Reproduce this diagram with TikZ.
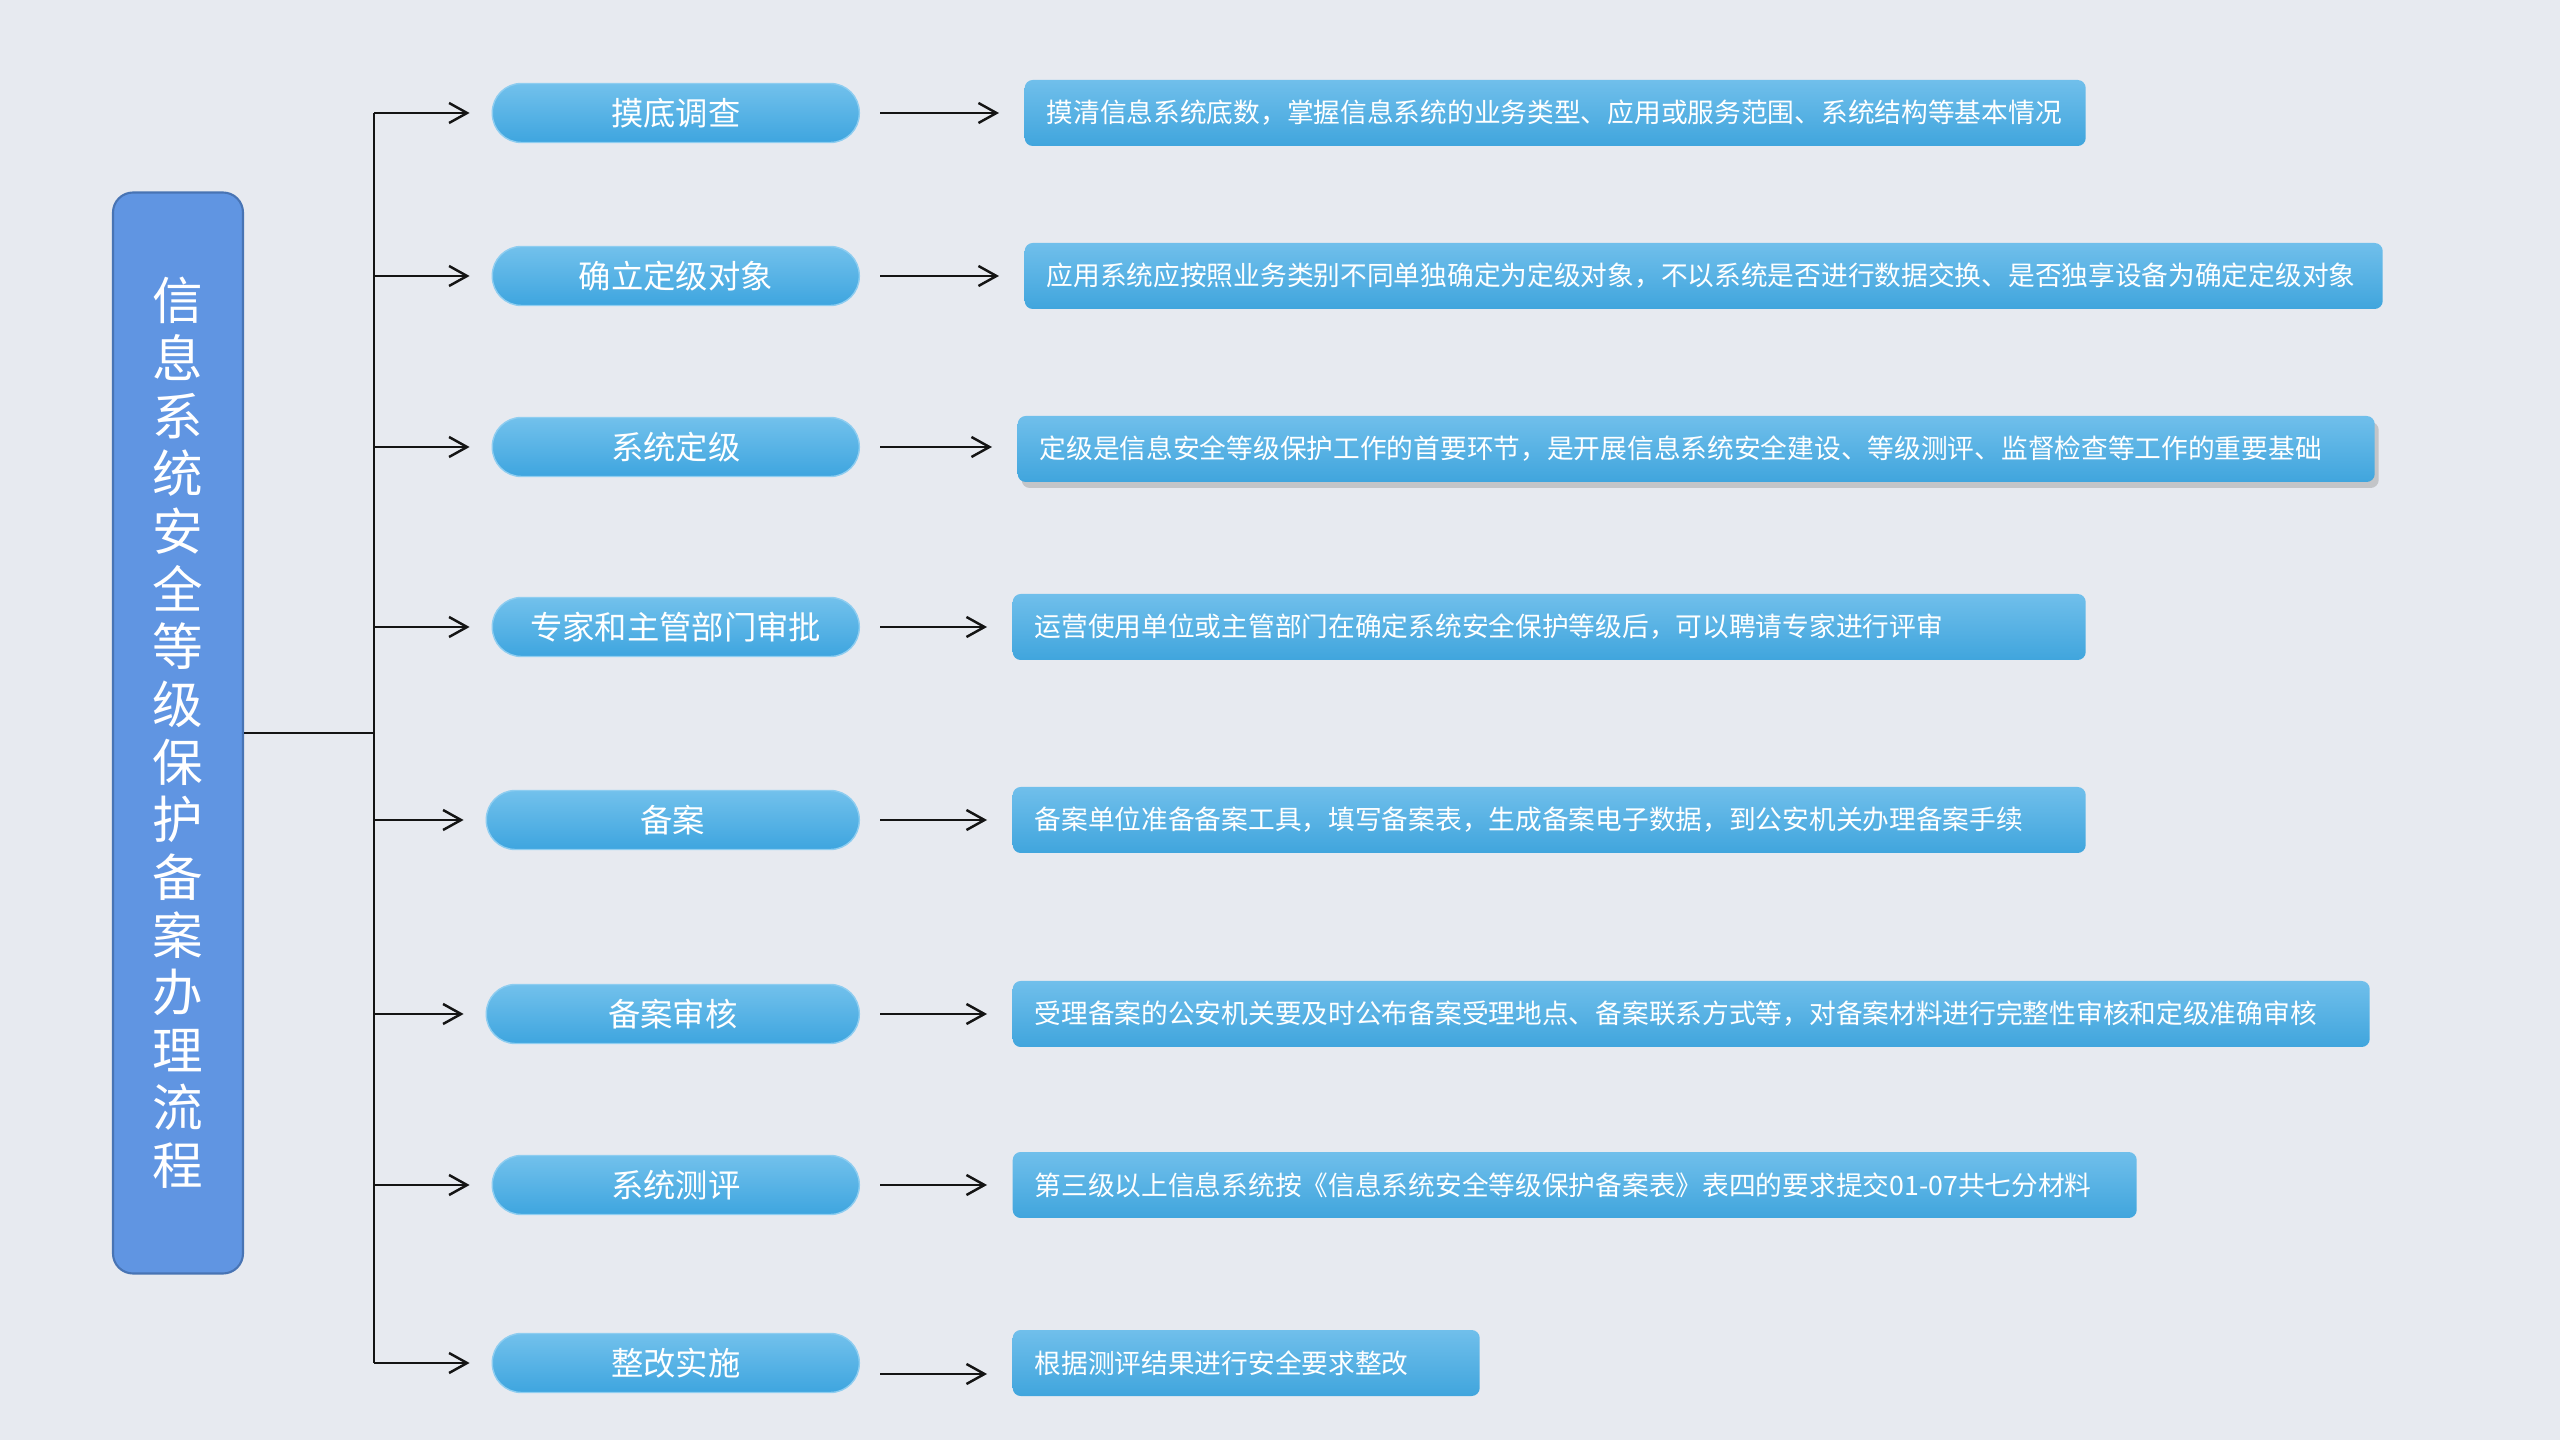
\documentclass[tikz,border=0pt]{standalone}
\usepackage{fontspec}
\setmainfont{Noto Sans CJK SC}
\usepackage{tikz}
\usetikzlibrary{arrows.meta,shadows}
\definecolor{ink}{RGB}{20,20,20}
\definecolor{paper}{RGB}{231,234,240}
\definecolor{titlefill}{RGB}{96,149,226}
\definecolor{titlestroke}{RGB}{72,116,180}
\definecolor{stagetop}{RGB}{114,193,236}
\definecolor{stagebot}{RGB}{62,165,223}
\definecolor{desctop}{RGB}{112,191,235}
\definecolor{descbot}{RGB}{64,165,221}
\def\PxT{374}
\def\PxS{860}
\tikzset{
  titlebox/.style={
    draw=titlestroke, fill=titlefill, line width=0.6pt, rounded corners=2mm,
    minimum width=13mm, minimum height=108.1mm, inner sep=0pt,
    align=center, text=white, font=\fontsize{14.4}{16.4}\selectfont,
  },
  stage/.style={
    draw=stagetop!80!white, top color=stagetop, bottom color=stagebot,
    rounded corners=2.9mm, minimum width=36.7mm, minimum height=5.9mm,
    inner sep=0pt, anchor=east, text=white, font=\fontsize{9.2}{11}\selectfont,
  },
  desc/.style={
    top color=desctop, bottom color=descbot, rounded corners=0.8mm,
    minimum height=6.6mm, inner xsep=2.2mm, inner ysep=0pt, anchor=west,
    text width=#1, align=left, text=white, font=\fontsize{7.6}{9}\selectfont,
  },
  trunk/.style={line width=0.7pt, draw=ink},
  arr/.style={-{Straight Barb[length=1.8mm,width=2mm]}, line width=0.7pt, draw=ink},
  stagearr/.style={arr, shorten <=2mm, shorten >=2.5mm},
}
\begin{document}
\begin{tikzpicture}[x=0.1mm,y=-0.1mm]
  \useasboundingbox (0,0) rectangle (2560,1440);
  \fill[paper] (0,0) rectangle (2560,1440);

  \node[titlebox] (title) at (178,733)
    {信\\息\\系\\统\\安\\全\\等\\级\\保\\护\\备\\案\\办\\理\\流\\程};

  % junctions on the trunk
  \coordinate (j1) at (\PxT,113);
  \coordinate (j2) at (\PxT,276);
  \coordinate (j3) at (\PxT,447);
  \coordinate (j4) at (\PxT,627);
  \coordinate (j5) at (\PxT,820);
  \coordinate (j6) at (\PxT,1014);
  \coordinate (j7) at (\PxT,1185);
  \coordinate (j8) at (\PxT,1363);
  \draw[trunk] (j1) -- (j8);
  \draw[trunk] (title.east) -- (title.east -| j1);

  % stages
  \node[stage] (p1) at (\PxS,113) {摸底调查};
  \node[stage] (p2) at (\PxS,276) {确立定级对象};
  \node[stage] (p3) at (\PxS,447) {系统定级};
  \node[stage] (p4) at (\PxS,627) {专家和主管部门审批};
  \node[stage, minimum width=37.3mm] (p5) at (\PxS,820) {备案};
  \node[stage, minimum width=37.3mm] (p6) at (\PxS,1014) {备案审核};
  \node[stage] (p7) at (\PxS,1185) {系统测评};
  \node[stage] (p8) at (\PxS,1363) {整改实施};

  % descriptions
  \node[desc=101.7mm] (d1) at (1024,113)
    {摸清信息系统底数，掌握信息系统的业务类型、应用或服务范围、系统结构等基本情况};
  \node[desc=131.4mm] (d2) at (1024,276)
    {应用系统应按照业务类别不同单独确定为定级对象，不以系统是否进行数据交换、是否独享设备为确定定级对象};
  \node[desc=131.3mm, drop shadow={opacity=0.35, shadow xshift=0.4mm, shadow yshift=-0.6mm}] (d3) at (1017,449)
    {定级是信息安全等级保护工作的首要环节，是开展信息系统安全建设、等级测评、监督检查等工作的重要基础};
  \node[desc=102.9mm] (d4) at (1012,627)
    {运营使用单位或主管部门在确定系统安全保护等级后，可以聘请专家进行评审};
  \node[desc=102.9mm] (d5) at (1012,820)
    {备案单位准备备案工具，填写备案表，生成备案电子数据，到公安机关办理备案手续};
  \node[desc=131.3mm] (d6) at (1012,1014)
    {受理备案的公安机关要及时公布备案受理地点、备案联系方式等，对备案材料进行完整性审核和定级准确审核};
  \node[desc=108mm] (d7) at (1012,1185)
    {第三级以上信息系统按《信息系统安全等级保护备案表》表四的要求提交01-07共七分材料};
  \node[desc=42.3mm] (d8) at (1012,1363)
    {根据测评结果进行安全要求整改};

  % branches
  \foreach \i in {1,...,8}
    \draw[arr, shorten >=2.2mm] (j\i) -- (p\i.west);
  \foreach \i in {1,...,7}
    \draw[stagearr] (p\i.east) -- (d\i.west |- p\i.east);
  \draw[stagearr] ([yshift=-1.1mm]p8.east) -- ([yshift=-1.1mm]d8.west);
\end{tikzpicture}
\end{document}
